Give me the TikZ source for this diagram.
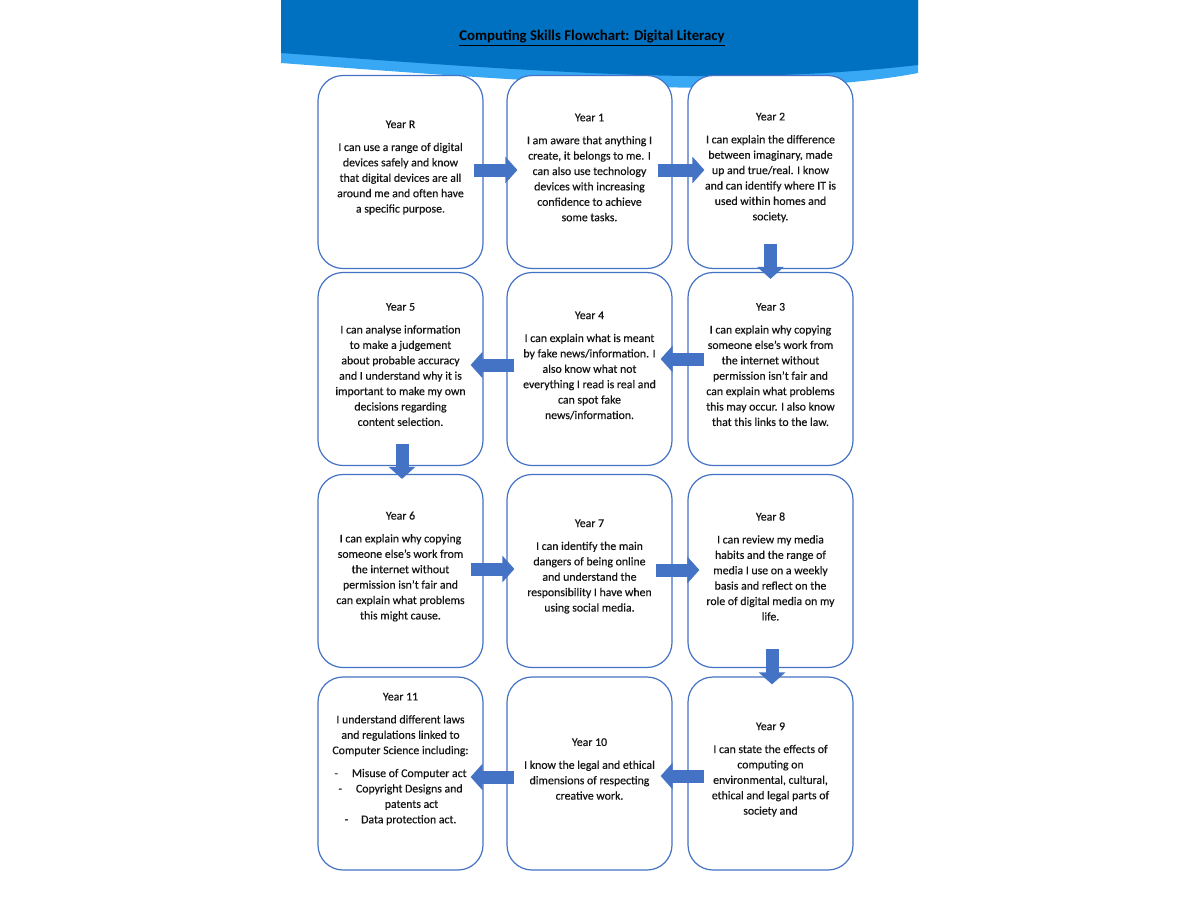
\documentclass[tikz,border=0pt]{standalone}
\usepackage{fontspec}
\setmainfont{Carlito}
\newfontfamily\bodyfont{Carlito}[BoldFont=Carlito, BoldFeatures={FakeBold=0.35}]
\usetikzlibrary{arrows.meta}
\definecolor{hdrdark}{RGB}{0,112,192}
\definecolor{hdrlight}{RGB}{56,168,245}
\definecolor{boxblue}{RGB}{68,114,196}
\definecolor{txtcol}{RGB}{20,20,20}
\begin{document}
\begin{tikzpicture}[x=1pt,y=-1pt,
  box/.style={draw=boxblue, line width=1.2pt, fill=white, rounded corners=25pt,
    minimum width=165pt, minimum height=193pt, inner sep=0pt},
  txt/.style={align=center, text=txtcol, inner sep=0pt,
    font=\bodyfont\bfseries\fontsize{11.8}{15.4}\selectfont},
  barrow/.style={draw=boxblue, line width=13pt,
    -{Triangle[width=26pt,length=12pt]}, shorten <=0pt}
]
\fill[white] (0,0) rectangle (1200,900);
\useasboundingbox (0,0) rectangle (1200,900);

% header
\fill[hdrlight] (281,0) -- (918,0) -- (918,73)
  .. controls (850,86) and (750,90) .. (660,87)
  .. controls (520,81) and (400,72) .. (281,63) -- cycle;
\fill[hdrdark] (281,0) -- (918,0) -- (918,65)
  .. controls (830,75) and (740,78) .. (640,75)
  .. controls (500,70) and (380,60) .. (281,53) -- cycle;
\node[font=\fontsize{14.8}{17}\selectfont\bfseries, text=black, inner sep=0pt] (title) at (592,38)
  {\underline{Computing Skills Flowchart: Digital Literacy}};

% boxes
\node[box] (yR) at (400.5,172) {};
\node[box] (y1) at (589.5,172) {};
\node[box] (y2) at (770.5,172) {};
\node[box] (y5) at (400.5,369) {};
\node[box] (y4) at (589.5,369) {};
\node[box] (y3) at (770.5,369) {};
\node[box] (y6) at (400.5,571) {};
\node[box] (y7) at (589.5,571) {};
\node[box] (y8) at (770.5,571) {};
\node[box] (y11) at (400.5,773.5) {};
\node[box] (y10) at (589.5,773.5) {};
\node[box] (y9) at (770.5,773.5) {};

% texts
\node[txt] (tR) at ([yshift=4.5pt]yR.center) {Year R\\[7.5pt]I can use a range of digital\\devices safely and know\\that digital devices are all\\around me and often have\\a specific purpose.};
\node[txt] (t1) at ([yshift=4.5pt]y1.center) {Year 1\\[7.5pt]I am aware that anything I\\create, it belongs to me. I\\can also use technology\\devices with increasing\\confidence to achieve\\some tasks.};
\node[txt] (t2) at ([yshift=4.5pt]y2.center) {Year 2\\[7.5pt]I can explain the difference\\between imaginary, made\\up and true/real. I know\\and can identify where IT is\\used within homes and\\society.};
\node[txt] (t3) at ([yshift=4.5pt]y3.center) {Year 3\\[7.5pt]I can explain why copying\\someone else’s work from\\the internet without\\permission isn’t fair and\\can explain what problems\\this may occur. I also know\\that this links to the law.};
\node[txt] (t4) at ([yshift=3.5pt]y4.center) {Year 4\\[7.5pt]I can explain what is meant\\by fake news/information. I\\also know what not\\everything I read is real and\\can spot fake\\news/information.};
\node[txt] (t5) at ([yshift=4.5pt]y5.center) {Year 5\\[7.5pt]I can analyse information\\to make a judgement\\about probable accuracy\\and I understand why it is\\important to make my own\\decisions regarding\\content selection.};
\node[txt] (t6) at ([yshift=4.5pt]y6.center) {Year 6\\[7.5pt]I can explain why copying\\someone else’s work from\\the internet without\\permission isn’t fair and\\can explain what problems\\this might cause.};
\node[txt] (t7) at ([yshift=4.5pt]y7.center) {Year 7\\[7.5pt]I can identify the main\\dangers of being online\\and understand the\\responsibility I have when\\using social media.};
\node[txt] (t8) at ([yshift=4.5pt]y8.center) {Year 8\\[7.5pt]I can review my media\\habits and the range of\\media I use on a weekly\\basis and reflect on the\\role of digital media on my\\life.};
\node[txt] (t9) at ([yshift=4pt]y9.center) {Year 9\\[7.5pt]I can state the effects of\\computing on\\environmental, cultural,\\ethical and legal parts of\\society and};
\node[txt] (t10) at ([yshift=4.5pt]y10.center) {Year 10\\[7.5pt]I know the legal and ethical\\dimensions of respecting\\creative work.};
\node[txt] (t11) at ([yshift=14.5pt]y11.center) {Year 11\\[7.5pt]I understand different laws\\and regulations linked to\\Computer Science including:\\[7.5pt]-\hspace{14pt}Misuse of Computer act\\-\hspace{14pt}Copyright Designs and\\\hspace*{22pt}patents act\\-\hspace{13pt}Data protection act.};

% arrows
\draw[barrow] ([xshift=-10pt,yshift=2pt]yR.east) -- ([xshift=11pt,yshift=2pt]y1.west);
\draw[barrow] ([xshift=-15pt,yshift=2pt]y1.east) -- ([xshift=17pt,yshift=2pt]y2.west);
\draw[barrow] ([yshift=25.5pt]y2.south) -- ([yshift=-7pt]y3.north);
\draw[barrow] ([xshift=17pt,yshift=10pt]y3.west) -- ([xshift=-12pt,yshift=10pt]y4.east);
\draw[barrow] ([xshift=8pt,yshift=4pt]y4.west) -- ([xshift=-13pt,yshift=4pt]y5.east);
\draw[barrow] ([xshift=1.5pt,yshift=22pt]y5.south) -- ([xshift=1.5pt,yshift=-5pt]y6.north);
\draw[barrow] ([xshift=-13pt,yshift=2pt]y6.east) -- ([xshift=8pt,yshift=2pt]y7.west);
\draw[barrow] ([xshift=-17pt,yshift=1pt]y7.east) -- ([xshift=12pt,yshift=1pt]y8.west);
\draw[barrow] ([xshift=1.5pt,yshift=19pt]y8.south) -- ([xshift=1.5pt,yshift=-8pt]y9.north);
\draw[barrow] ([xshift=17pt,yshift=-2.5pt]y9.west) -- ([xshift=-12pt,yshift=-2.5pt]y10.east);
\draw[barrow] ([xshift=8pt,yshift=-3.5pt]y10.west) -- ([xshift=-13pt,yshift=-3.5pt]y11.east);
\end{tikzpicture}
\end{document}
